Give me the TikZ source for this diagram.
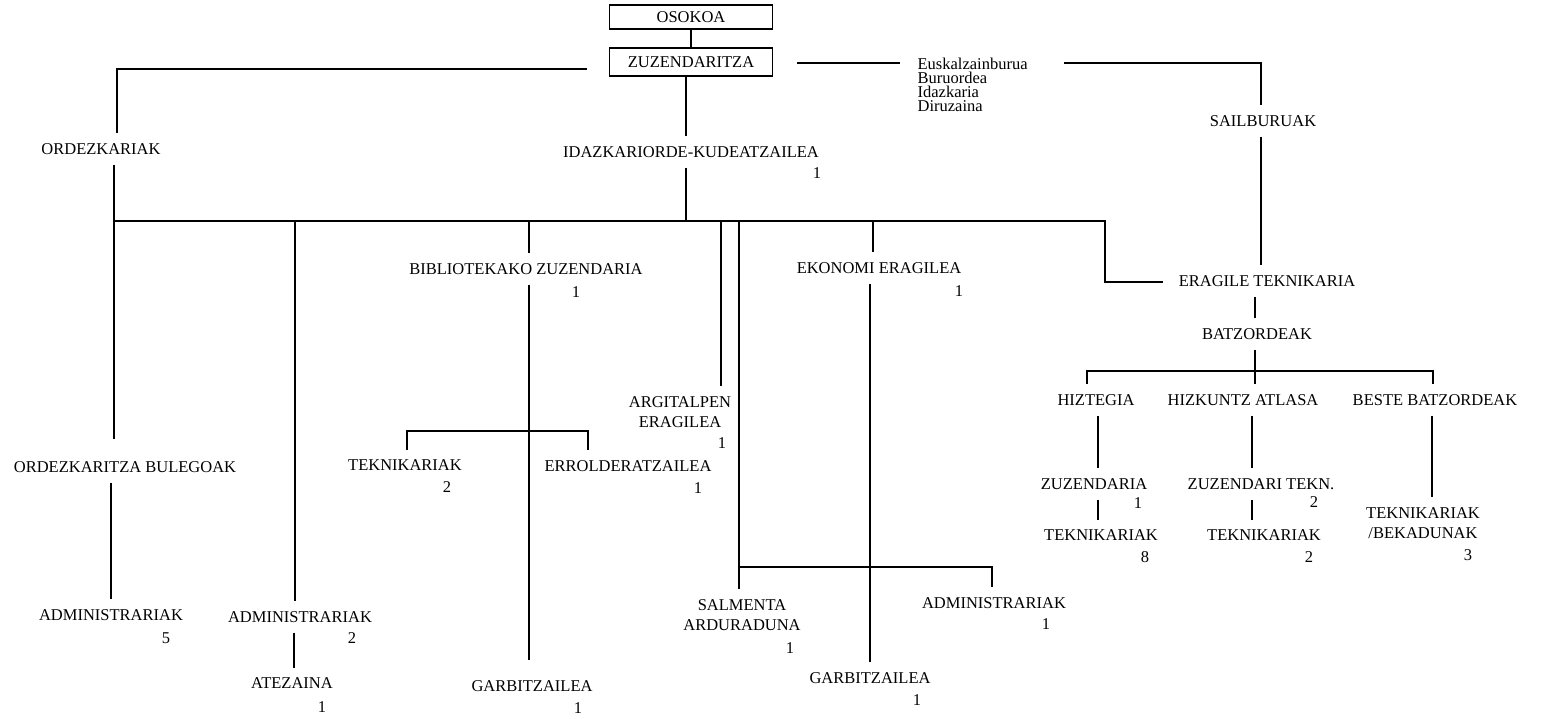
\documentclass[tikz,border=0pt]{standalone}
\usepackage{fontspec}
\setmainfont{Liberation Serif}
\usetikzlibrary{calc}
\begin{document}
\begin{tikzpicture}[x=1pt,y=-1pt,line width=1.2pt,
  lbl/.style={font=\fontsize{16.5}{20}\selectfont, inner sep=0pt, outer ysep=10pt, align=center},
  num/.style={font=\fontsize{16.5}{20}\selectfont, inner sep=0pt},
  box/.style={draw, line width=1.5pt, minimum width=163pt, inner sep=0pt, font=\fontsize{16.5}{20}\selectfont},
  small/.style={anchor=north west, align=left, inner sep=0pt, font=\fontsize{16.5}{14.2}\selectfont}]
\useasboundingbox (0,0) rectangle (1547,719);
% ---------- nodes ----------
\node[box,minimum height=24pt] (osokoa) at (691,17) {OSOKOA};
\node[box,minimum height=28pt] (zuz) at (691,62) {ZUZENDARITZA};
\node[small] (eusk) at (917,57) {Euskalzainburua\\Buruordea\\Idazkaria\\Diruzaina};
\node[lbl] (ordk) at (101,149) {ORDEZKARIAK};
\node[lbl] (idaz) at (691,152) {IDAZKARIORDE-KUDEATZAILEA};
\node[num] (idazn) at (817,173) {1};
\node[lbl] (sail) at (1263,121) {SAILBURUAK};
\node[lbl] (bib) at (526,269) {BIBLIOTEKAKO ZUZENDARIA};
\node[num] (bibn) at (576,292) {1};
\node[lbl] (ekon) at (879,268) {EKONOMI ERAGILEA};
\node[num] (ekonn) at (959,291) {1};
\node[lbl] (erag) at (1267,281) {ERAGILE TEKNIKARIA};
\node[lbl] (batz) at (1257,334) {BATZORDEAK};
\node[lbl] (argit) at (680,412) {ARGITALPEN\\ERAGILEA};
\node[num] (argitn) at (722,443) {1};
\node[lbl] (hizt) at (1096,400) {HIZTEGIA};
\node[lbl] (hizk) at (1243,400) {HIZKUNTZ ATLASA};
\node[lbl] (beste) at (1435,400) {BESTE BATZORDEAK};
\node[lbl] (tek2) at (405,465) {TEKNIKARIAK};
\node[num] (tek2n) at (447,487) {2};
\node[lbl] (errol) at (628,466) {ERROLDERATZAILEA};
\node[num] (erroln) at (698,488) {1};
\node[lbl] (ordb) at (125,467) {ORDEZKARITZA BULEGOAK};
\node[lbl] (zuzd) at (1094,484) {ZUZENDARIA};
\node[num] (zuzdn) at (1138,503) {1};
\node[lbl] (zuzt) at (1261,484) {ZUZENDARI TEKN.};
\node[num] (zuztn) at (1314,502) {2};
\node[lbl] (tek8) at (1101,535) {TEKNIKARIAK};
\node[num] (tek8n) at (1145,557) {8};
\node[lbl] (tekt) at (1264,535) {TEKNIKARIAK};
\node[num] (tektn) at (1309,557) {2};
\node[lbl] (tekb) at (1423,523) {TEKNIKARIAK\\/BEKADUNAK};
\node[num] (tekbn) at (1468,555) {3};
\node[lbl] (admin1) at (994,603) {ADMINISTRARIAK};
\node[num] (admin1n) at (1046,624) {1};
\node[lbl] (salm) at (742,615) {SALMENTA\\ARDURADUNA};
\node[num] (salmn) at (790,648) {1};
\node[lbl] (adm5) at (111,615) {ADMINISTRARIAK};
\node[num] (adm5n) at (166,638) {5};
\node[lbl] (adm2) at (300,617) {ADMINISTRARIAK};
\node[num] (adm2n) at (352,638) {2};
\node[lbl] (garb2) at (870,678) {GARBITZAILEA};
\node[num] (garb2n) at (917,700) {1};
\node[lbl] (atez) at (292,683) {ATEZAINA};
\node[num] (atezn) at (322,707) {1};
\node[lbl] (garb1) at (532,686) {GARBITZAILEA};
\node[num] (garb1n) at (578,708) {1};
% ---------- guide coordinates ----------
\coordinate (v117) at (117,0);
\coordinate (v114) at (114,0);
\coordinate (v111) at (111,0);
\coordinate (v295) at (295,0);
\coordinate (v294) at (294,0);
\coordinate (v407) at (407,0);
\coordinate (v529) at (529,0);
\coordinate (v588) at (588,0);
\coordinate (v686) at (686,0);
\coordinate (v721) at (721,0);
\coordinate (v739) at (739,0);
\coordinate (v870) at (870,0);
\coordinate (v873) at (873,0);
\coordinate (v992) at (992,0);
\coordinate (v1087) at (1087,0);
\coordinate (v1098) at (1098,0);
\coordinate (v1105) at (1105,0);
\coordinate (v1252) at (1252,0);
\coordinate (v1255) at (1255,0);
\coordinate (v1261) at (1261,0);
\coordinate (v1432) at (1432,0);
\coordinate (v1433) at (1433,0);
\coordinate (hbus) at (0,221);
\coordinate (hbr) at (0,431);
\coordinate (hsal) at (0,567);
\coordinate (hbz) at (0,371);
\coordinate (ordbtop) at ($(ordb.north)+(0,-12)$);
\coordinate (garbtop) at ($(garb1.north)+(0,-10)$);
% ---------- connectors ----------
\draw (osokoa) -- (zuz);
\draw ($(zuz.west)+(-22,7)$) -| (v117 |- ordk.north);
\draw (v114 |- ordk.south) -- (v114 |- ordbtop);
\draw (v111 |- ordb.south) -- (v111 |- adm5.north);
\draw ($(zuz.east)+(24,1)$) -- ($(eusk.north west)+(-17,6)$);
\draw ($(eusk.north east)+(36,6)$) -| (v1261 |- sail.north);
\draw (v1261 |- sail.south) -- (v1261 |- erag.north);
\draw (v1255 |- erag.south) -- (v1255 |- batz.north);
\draw (v686 |- zuz.south) -- (v686 |- idaz.north);
\draw (v686 |- idaz.south) -- (v686 |- hbus);
\draw (v114 |- hbus) -- (v1105 |- hbus) |- ($(erag.west)+(-15,1)$);
\draw (v295 |- hbus) -- (v295 |- adm2.north);
\draw (v294 |- adm2.south) -- (v294 |- atez.north);
\draw (v529 |- hbus) -- (v529 |- bib.north);
\draw (v529 |- bib.south) -- (v529 |- garbtop);
\draw (v407 |- tek2.north) |- (v529 |- hbr) -| (v588 |- errol.north);
\draw (v721 |- hbus) -- (v721 |- argit.north);
\draw (v739 |- hbus) -- (v739 |- salm.north);
\draw (v739 |- hsal) -| (v992 |- admin1.north);
\draw (v873 |- hbus) -- (v873 |- ekon.north);
\draw (v870 |- ekon.south) -- (v870 |- garb2.north);
\draw (v1255 |- batz.south) -- (v1255 |- hizk.north);
\draw (v1087 |- hizt.north) |- (v1255 |- hbz) -| (v1433 |- beste.north);
\draw (v1098 |- hizt.south) -- (v1098 |- zuzd.north);
\draw (v1098 |- zuzd.south) -- (v1098 |- tek8.north);
\draw (v1252 |- hizk.south) -- (v1252 |- zuzt.north);
\draw (v1252 |- zuzt.south) -- (v1252 |- tekt.north);
\draw (v1432 |- beste.south) -- (v1432 |- tekb.north);
\end{tikzpicture}
\end{document}
